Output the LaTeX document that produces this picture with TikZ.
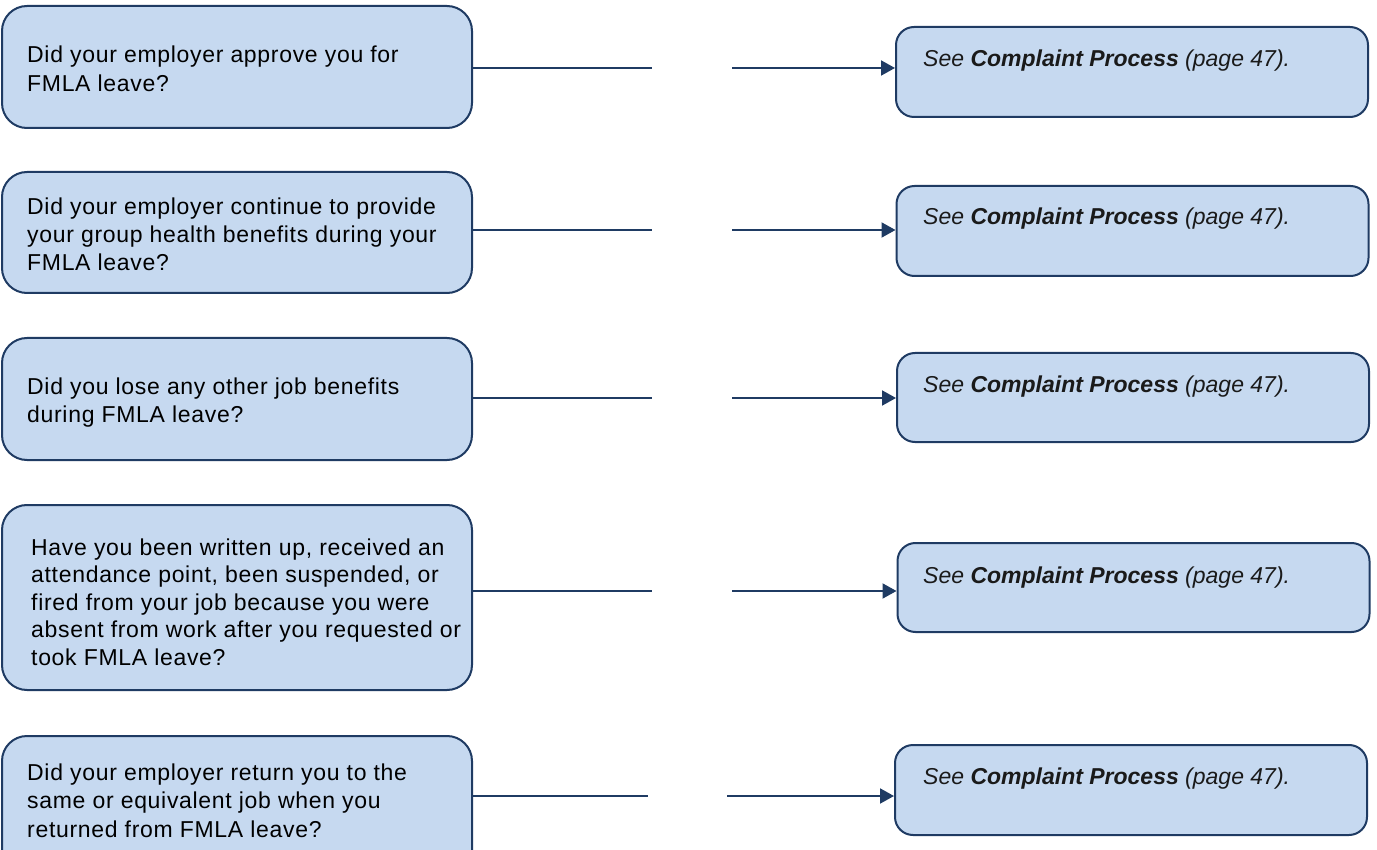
\documentclass[tikz,border=0pt]{standalone}
\usepackage{fontspec}
\setmainfont{Liberation Sans}
\newfontfamily\qfont[LetterSpace=3]{Liberation Sans}
\usetikzlibrary{arrows.meta}
\definecolor{boxfill}{HTML}{C6D9F0}
\definecolor{boxline}{HTML}{1F3B63}
\definecolor{txtcol}{HTML}{1A1A1A}
\tikzset{
  qbox/.style={draw=boxline, fill=boxfill, line width=2pt, rounded corners=25pt, minimum width=470pt, inner sep=0pt},
  abox/.style={draw=boxline, fill=boxfill, line width=2pt, rounded corners=18pt, minimum width=472pt, minimum height=90pt, inner sep=0pt},
  txt/.style={anchor=base west, inner sep=0pt, text=black, font=\qfont\fontsize{23}{28.5}\selectfont},
  atxt/.style={anchor=base west, inner sep=0pt, text=txtcol, font=\fontsize{23}{28}\selectfont\itshape},
  conn/.style={draw=boxline, line width=2pt},
  arr/.style={conn, -{Triangle[length=14pt,width=15pt]}}
}
\newcommand{\seecp}{See \textbf{Complaint Process} (page 47).}
\begin{document}
\begin{tikzpicture}[x=1pt,y=-1pt]
\useasboundingbox (0,0) rectangle (1377,850);
% question boxes
\node[qbox, minimum height=122pt] (q1) at (237,67) {};
\node[qbox, minimum height=121pt] (q2) at (237,232.5) {};
\node[qbox, minimum height=122pt] (q3) at (237,399) {};
\node[qbox, minimum height=185pt] (q4) at (237,597.5) {};
\node[qbox, minimum height=140pt] (q5) at (237,806) {};
% answer boxes
\node[abox] (a1) at (1132,72) {};
\node[abox] (a2) at (1132.5,231) {};
\node[abox, minimum height=89pt] (a3) at (1133,397.5) {};
\node[abox, minimum height=89pt] (a4) at (1133.5,587.5) {};
\node[abox] (a5) at (1131,790) {};
% question texts
\node[txt] (t1) at (27,63) {\parbox[t]{450pt}{\raggedright Did your employer approve you for\\FMLA leave?}};
\node[txt, font=\qfont\fontsize{23}{28}\selectfont] (t2) at (27,215) {\parbox[t]{450pt}{\raggedright Did your employer continue to provide\\your group health benefits during your\\FMLA leave?}};
\node[txt, font=\qfont\fontsize{23}{28}\selectfont] (t3) at (27,395) {\parbox[t]{450pt}{\raggedright Did you lose any other job benefits\\during FMLA leave?}};
\node[txt, font=\qfont\fontsize{23}{27.5}\selectfont] (t4) at (31,555) {\parbox[t]{450pt}{\raggedright Have you been written up, received an\\attendance point, been suspended, or\\fired from your job because you were\\absent from work after you requested or\\took FMLA leave?}};
\node[txt, font=\qfont\fontsize{23}{28.5}\selectfont] (t5) at (27,780) {\parbox[t]{450pt}{\raggedright Did your employer return you to the\\same or equivalent job when you\\returned from FMLA leave?}};
% answer texts
\node[atxt] (s1) at (923,67) {\seecp};
\node[atxt] (s2) at (923,225) {\seecp};
\node[atxt] (s3) at (923,393) {\seecp};
\node[atxt] (s4) at (923,583) {\seecp};
\node[atxt] (s5) at (923,784) {\seecp};
% gap coordinates
\coordinate (g1a) at (652,68);  \coordinate (g1b) at (732,68);
\coordinate (g2a) at (652,230); \coordinate (g2b) at (732,230);
\coordinate (g3a) at (652,398); \coordinate (g3b) at (732,398);
\coordinate (g4a) at (652,591); \coordinate (g4b) at (732,591);
\coordinate (g5a) at (648,796); \coordinate (g5b) at (727,796);
% connectors
\foreach \i in {1,...,5}{
  \draw[conn] (q\i.east |- g\i a) -- (g\i a);
  \draw[arr] (g\i b) -- (a\i.west |- g\i b);
}
\end{tikzpicture}
\end{document}
